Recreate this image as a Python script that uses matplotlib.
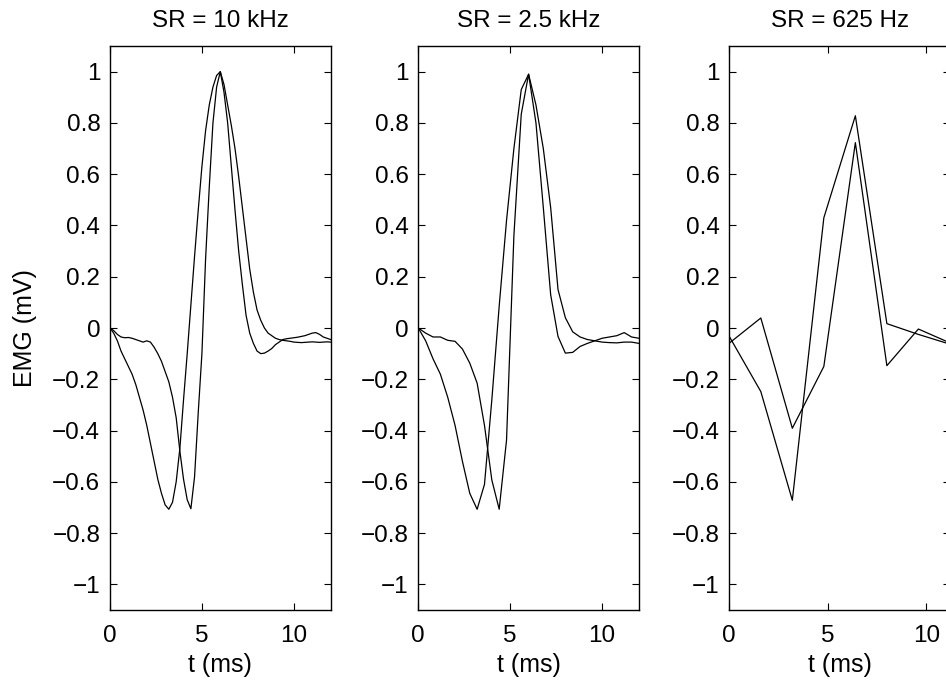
import numpy as np
import matplotlib.pyplot as plt
from matplotlib.ticker import FuncFormatter

plt.rcParams['font.family'] = ['Liberation Sans', 'DejaVu Sans']
plt.rcParams['font.size'] = 17.5

# 10 kHz (read every 0.2 ms)
t_10k = np.arange(0, 12.01, 0.2)
emg_a_10k = [0.00, -0.02, -0.05, -0.09, -0.12, -0.15, -0.18, -0.22, -0.27, -0.32,
             -0.38, -0.45, -0.52, -0.59, -0.645, -0.69, -0.707, -0.68, -0.60, -0.47,
             -0.28, -0.10, 0.09, 0.28, 0.46, 0.63, 0.77, 0.87, 0.94, 0.985,
             1.00, 0.95, 0.87, 0.79, 0.70, 0.59, 0.47, 0.35, 0.23, 0.14,
             0.07, 0.03, 0.00, -0.02, -0.03, -0.04, -0.045, -0.048, -0.05, -0.052,
             -0.055, -0.056, -0.057, -0.056, -0.055, -0.054, -0.055, -0.056, -0.055, -0.054,
             -0.055]
emg_b_10k = [0.00, -0.01, -0.025, -0.035, -0.038, -0.037, -0.04, -0.045, -0.05, -0.055,
             -0.05, -0.055, -0.075, -0.10, -0.13, -0.17, -0.21, -0.27, -0.35, -0.48,
             -0.59, -0.67, -0.705, -0.58, -0.33, -0.10, 0.27, 0.55, 0.80, 0.94,
             1.00, 0.92, 0.80, 0.63, 0.46, 0.30, 0.17, 0.05, -0.02, -0.06,
             -0.09, -0.10, -0.098, -0.09, -0.08, -0.065, -0.055, -0.045, -0.042, -0.04,
             -0.038, -0.036, -0.033, -0.03, -0.025, -0.02, -0.018, -0.025, -0.035, -0.04,
             -0.045]

# 2.5 kHz
t_2k5 = np.arange(0, 12.01, 0.4)
emg_a_2k5 = [0.00, -0.05, -0.12, -0.18, -0.27, -0.38, -0.52, -0.645, -0.707, -0.61,
             -0.28, 0.085, 0.42, 0.70, 0.93, 0.99, 0.87, 0.70, 0.47, 0.15,
             0.04, -0.015, -0.035, -0.045, -0.05, -0.055, -0.057, -0.058, -0.055, -0.055,
             -0.06]
emg_b_2k5 = [0.00, -0.02, -0.035, -0.035, -0.048, -0.052, -0.082, -0.137, -0.215, -0.38,
             -0.593, -0.707, -0.437, 0.36, 0.834, 0.99, 0.80, 0.47, 0.13, -0.033,
             -0.098, -0.095, -0.072, -0.06, -0.05, -0.04, -0.035, -0.03, -0.018, -0.035,
             -0.04]

# 625 Hz
t_625 = np.arange(0, 11.21, 1.6)
emg_a_625 = [-0.033, -0.248, -0.672, 0.43, 0.828, 0.017, -0.025, -0.063]
emg_b_625 = [-0.059, 0.039, -0.391, -0.150, 0.723, -0.147, -0.004, -0.058]

panels = [
    ("SR = 10 kHz", t_10k, emg_a_10k, emg_b_10k, 12),
    ("SR = 2.5 kHz", t_2k5, emg_a_2k5, emg_b_2k5, 12),
    ("SR = 625 Hz", t_625, emg_a_625, emg_b_625, 11.2),
]
lefts = [110, 418.3, 729.3]

W, H = 946, 681
fig = plt.figure(figsize=(W / 100, H / 100), dpi=100)


def tick_fmt(v, pos):
    v = round(v, 2) + 0.0
    return ('%g' % v).replace('-', '\u2212')


for i, (title, t, a, b, xmax) in enumerate(panels):
    ax = fig.add_axes([lefts[i] / W, (H - 610) / H, 220.6 / W, 564 / H])
    ax.plot(t, a, color='black', lw=0.9)
    ax.plot(t, b, color='black', lw=0.9)
    ax.set_xlim(0, xmax)
    ax.set_ylim(-1.1, 1.1)
    ax.set_xticks([0, 5, 10])
    ax.set_yticks(np.arange(-1, 1.01, 0.2))
    ax.yaxis.set_major_formatter(FuncFormatter(tick_fmt))
    ax.tick_params(direction='in', length=5, width=0.8, top=True, right=True)
    ax.tick_params(axis='x', pad=10.5)
    ax.tick_params(axis='y', pad=7)
    for s in ax.spines.values():
        s.set_linewidth(1.0)
    ax.set_title(title, pad=14, fontsize=17.5)
    ax.set_xlabel("t (ms)", labelpad=4.5, fontsize=18)
    if i == 0:
        ax.set_ylabel("EMG (mV)", labelpad=11, fontsize=18)

plt.savefig("out.png", dpi=100)
